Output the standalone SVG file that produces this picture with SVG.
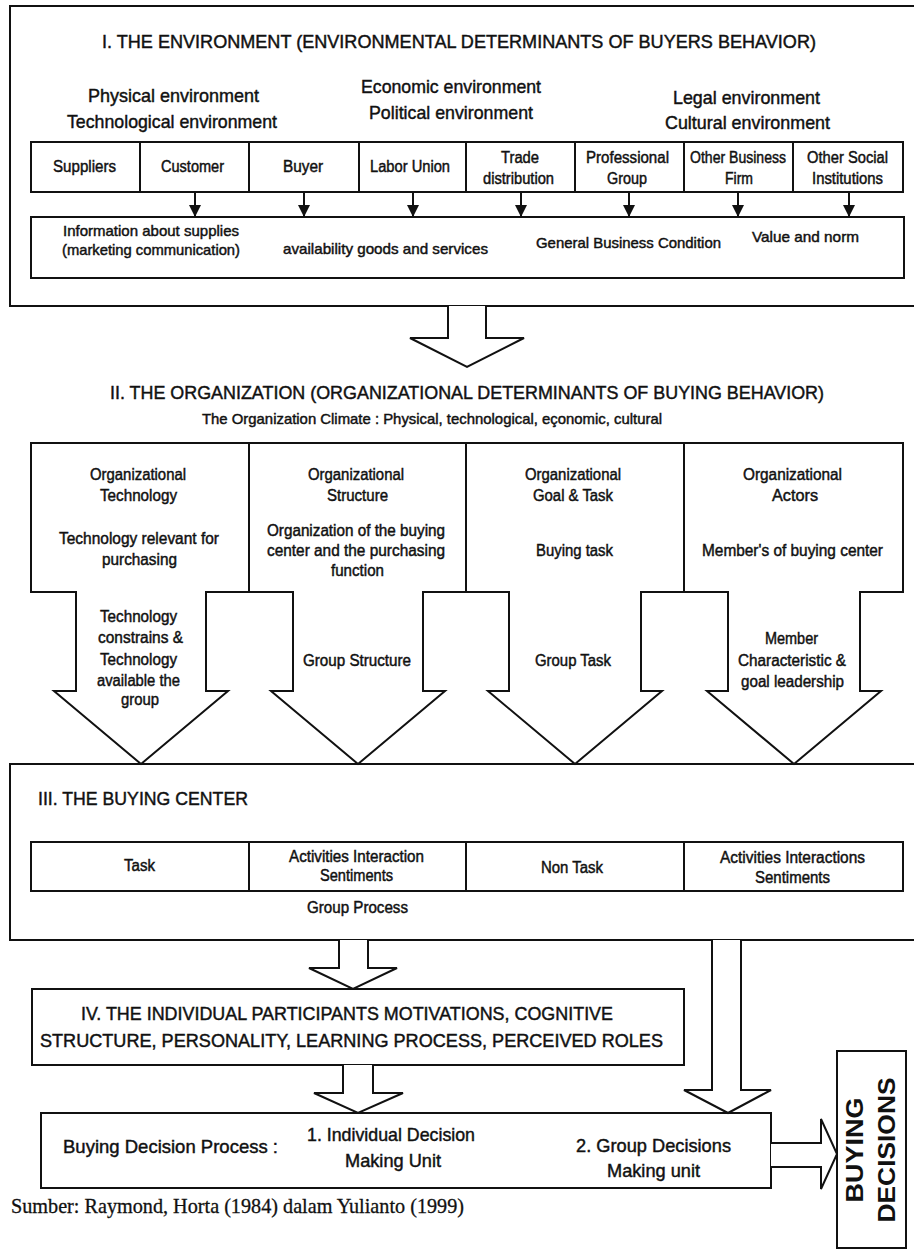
<svg xmlns="http://www.w3.org/2000/svg" width="914" height="1249" viewBox="0 0 914 1249">
<style>
text{font-family:"Liberation Sans",Arial,sans-serif;fill:#111;stroke:#111;stroke-width:0.45px;}
.t1{font-size:19px;}
.t2{font-size:19px;}
.lb{font-size:16px;}
.sm{font-size:15px;}
.bd{font-size:23px;font-weight:bold;stroke-width:0;}
.ft{font-family:"Liberation Serif","Times New Roman",serif;font-size:21px;stroke-width:0.3px;}
.box{fill:none;stroke:#111;stroke-width:2;}
.arr{fill:#fff;stroke:#111;stroke-width:2;stroke-linejoin:miter;}
.ln{stroke:#111;stroke-width:2;fill:none;}
</style>
<defs>
<marker id="ah" markerUnits="userSpaceOnUse" markerWidth="12" markerHeight="12" refX="12" refY="6" orient="auto">
<path d="M0,0 L12,6 L0,12 z" fill="#111"/>
</marker>
</defs>
<rect width="914" height="1249" fill="#fff"/>

<g id="env">
<path class="box" d="M914,6 H10 V306 H914"/>
<text class="t1" x="102" y="48" textLength="714" lengthAdjust="spacingAndGlyphs">I. THE ENVIRONMENT (ENVIRONMENTAL DETERMINANTS OF BUYERS BEHAVIOR)</text>
<text class="t2" x="88" y="102" textLength="171" lengthAdjust="spacingAndGlyphs">Physical environment</text>
<text class="t2" x="67" y="128" textLength="210" lengthAdjust="spacingAndGlyphs">Technological environment</text>
<text class="t2" x="361" y="93" textLength="180" lengthAdjust="spacingAndGlyphs">Economic environment</text>
<text class="t2" x="369" y="119" textLength="164" lengthAdjust="spacingAndGlyphs">Political environment</text>
<text class="t2" x="673" y="104" textLength="147" lengthAdjust="spacingAndGlyphs">Legal environment</text>
<text class="t2" x="665" y="129" textLength="165" lengthAdjust="spacingAndGlyphs">Cultural environment</text>
</g>

<g id="env-actors">
<rect class="box" x="31" y="142" width="872" height="50"/>
<path class="ln" d="M140,142V192M249,142V192M359,142V192M466,142V192M575,142V192M684,142V192M793,142V192"/>
<text class="lb" x="53" y="172" textLength="63" lengthAdjust="spacingAndGlyphs">Suppliers</text>
<text class="lb" x="161" y="172" textLength="63" lengthAdjust="spacingAndGlyphs">Customer</text>
<text class="lb" x="283" y="172" textLength="40" lengthAdjust="spacingAndGlyphs">Buyer</text>
<text class="lb" x="370" y="172" textLength="80" lengthAdjust="spacingAndGlyphs">Labor Union</text>
<text class="lb" x="501" y="163" textLength="38" lengthAdjust="spacingAndGlyphs">Trade</text>
<text class="lb" x="483" y="184" textLength="71" lengthAdjust="spacingAndGlyphs">distribution</text>
<text class="lb" x="586" y="163" textLength="83" lengthAdjust="spacingAndGlyphs">Professional</text>
<text class="lb" x="607" y="184" textLength="40" lengthAdjust="spacingAndGlyphs">Group</text>
<text class="lb" x="690" y="163" textLength="96" lengthAdjust="spacingAndGlyphs">Other Business</text>
<text class="lb" x="725" y="184" textLength="28" lengthAdjust="spacingAndGlyphs">Firm</text>
<text class="lb" x="807" y="163" textLength="81" lengthAdjust="spacingAndGlyphs">Other Social</text>
<text class="lb" x="812" y="184" textLength="71" lengthAdjust="spacingAndGlyphs">Institutions</text>
</g>

<g id="env-info">
<rect class="box" x="31" y="217" width="873" height="61"/>
<text class="sm" x="63" y="236" textLength="176" lengthAdjust="spacingAndGlyphs">Information about supplies</text>
<text class="sm" x="62" y="255" textLength="178" lengthAdjust="spacingAndGlyphs">(marketing communication)</text>
<text class="sm" x="283" y="254" textLength="205" lengthAdjust="spacingAndGlyphs">availability goods and services</text>
<text class="sm" x="536" y="248" textLength="185" lengthAdjust="spacingAndGlyphs">General Business Condition</text>
<text class="sm" x="752" y="242" textLength="107" lengthAdjust="spacingAndGlyphs">Value and norm</text>
</g>

<g id="org">
<text class="t1" x="110" y="399" textLength="714" lengthAdjust="spacingAndGlyphs">II. THE ORGANIZATION (ORGANIZATIONAL DETERMINANTS OF BUYING BEHAVIOR)</text>
<text class="sm" x="202" y="424" textLength="460" lengthAdjust="spacingAndGlyphs">The Organization Climate : Physical, technological, eçonomic, cultural</text>
</g>

<g id="org-technology">
<polygon class="arr" points="31,443 249,443 249,592 206,592 206,691 228,691 141,764 54,691 76,691 76,592 31,592"/>
<text class="lb" x="90" y="480" textLength="96" lengthAdjust="spacingAndGlyphs">Organizational</text>
<text class="lb" x="100" y="501" textLength="77" lengthAdjust="spacingAndGlyphs">Technology</text>
<text class="lb" x="59" y="544" textLength="160" lengthAdjust="spacingAndGlyphs">Technology relevant for</text>
<text class="lb" x="102" y="565" textLength="75" lengthAdjust="spacingAndGlyphs">purchasing</text>
<text class="lb" x="100" y="622" textLength="77" lengthAdjust="spacingAndGlyphs">Technology</text>
<text class="lb" x="98" y="643" textLength="85" lengthAdjust="spacingAndGlyphs">constrains &amp;</text>
<text class="lb" x="100" y="665" textLength="77" lengthAdjust="spacingAndGlyphs">Technology</text>
<text class="lb" x="97" y="686" textLength="83" lengthAdjust="spacingAndGlyphs">available the</text>
<text class="lb" x="121" y="705" textLength="38" lengthAdjust="spacingAndGlyphs">group</text>
</g>

<g id="org-structure">
<polygon class="arr" points="249,443 466,443 466,592 423,592 423,691 445,691 358,764 271,691 293,691 293,592 249,592"/>
<text class="lb" x="308" y="480" textLength="96" lengthAdjust="spacingAndGlyphs">Organizational</text>
<text class="lb" x="327" y="501" textLength="61" lengthAdjust="spacingAndGlyphs">Structure</text>
<text class="lb" x="267" y="536" textLength="178" lengthAdjust="spacingAndGlyphs">Organization of the buying</text>
<text class="lb" x="267" y="556" textLength="178" lengthAdjust="spacingAndGlyphs">center and the purchasing</text>
<text class="lb" x="331" y="576" textLength="53" lengthAdjust="spacingAndGlyphs">function</text>
<text class="lb" x="303" y="666" textLength="108" lengthAdjust="spacingAndGlyphs">Group Structure</text>
</g>

<g id="org-goal">
<polygon class="arr" points="466,443 684,443 684,592 641,592 641,691 662,691 575,764 488,691 509,691 509,592 466,592"/>
<text class="lb" x="525" y="480" textLength="96" lengthAdjust="spacingAndGlyphs">Organizational</text>
<text class="lb" x="533" y="501" textLength="80" lengthAdjust="spacingAndGlyphs">Goal &amp; Task</text>
<text class="lb" x="536" y="556" textLength="77" lengthAdjust="spacingAndGlyphs">Buying task</text>
<text class="lb" x="535" y="666" textLength="76" lengthAdjust="spacingAndGlyphs">Group Task</text>
</g>

<g id="org-actors">
<polygon class="arr" points="684,443 903,443 903,592 860,592 860,691 881,691 794,764 707,691 728,691 728,592 684,592"/>
<text class="lb" x="743" y="480" textLength="99" lengthAdjust="spacingAndGlyphs">Organizational</text>
<text class="lb" x="772" y="501" textLength="46" lengthAdjust="spacingAndGlyphs">Actors</text>
<text class="lb" x="702" y="556" textLength="181" lengthAdjust="spacingAndGlyphs">Member's of buying center</text>
<text class="lb" x="765" y="644" textLength="53" lengthAdjust="spacingAndGlyphs">Member</text>
<text class="lb" x="738" y="666" textLength="108" lengthAdjust="spacingAndGlyphs">Characteristic &amp;</text>
<text class="lb" x="741" y="687" textLength="103" lengthAdjust="spacingAndGlyphs">goal leadership</text>
</g>

<g id="buying-center">
<path class="box" d="M914,764 H10 V940 H914"/>
<text class="t1" x="38" y="805" font-size="21" textLength="210" lengthAdjust="spacingAndGlyphs">III. THE BUYING CENTER</text>
<rect class="box" x="31" y="842" width="872" height="49"/>
<path class="ln" d="M249,842V891M466,842V891M684,842V891"/>
<text class="lb" x="124" y="871" textLength="31" lengthAdjust="spacingAndGlyphs">Task</text>
<text class="lb" x="289" y="862" textLength="135" lengthAdjust="spacingAndGlyphs">Activities Interaction</text>
<text class="lb" x="320" y="881" textLength="73" lengthAdjust="spacingAndGlyphs">Sentiments</text>
<text class="lb" x="541" y="873" textLength="62" lengthAdjust="spacingAndGlyphs">Non Task</text>
<text class="lb" x="720" y="863" textLength="145" lengthAdjust="spacingAndGlyphs">Activities Interactions</text>
<text class="lb" x="755" y="883" textLength="75" lengthAdjust="spacingAndGlyphs">Sentiments</text>
<text class="lb" x="307" y="913" textLength="101" lengthAdjust="spacingAndGlyphs">Group Process</text>
</g>

<g id="individual">
<rect class="box" x="32" y="989" width="652" height="76"/>
<text class="t1" x="81" y="1020" font-size="20" textLength="532" lengthAdjust="spacingAndGlyphs">IV. THE INDIVIDUAL PARTICIPANTS MOTIVATIONS, COGNITIVE</text>
<text class="t1" x="40" y="1047" font-size="20" textLength="623" lengthAdjust="spacingAndGlyphs">STRUCTURE, PERSONALITY, LEARNING PROCESS, PERCEIVED ROLES</text>
</g>

<g id="decision-process">
<rect class="box" x="41" y="1113" width="730" height="75"/>
<text class="t2" x="63" y="1153" textLength="215" lengthAdjust="spacingAndGlyphs">Buying Decision Process :</text>
<text class="t2" x="307" y="1141" textLength="168" lengthAdjust="spacingAndGlyphs">1. Individual Decision</text>
<text class="t2" x="345" y="1167" textLength="96" lengthAdjust="spacingAndGlyphs">Making Unit</text>
<text class="t2" x="576" y="1152" textLength="155" lengthAdjust="spacingAndGlyphs">2. Group Decisions</text>
<text class="t2" x="607" y="1177" textLength="93" lengthAdjust="spacingAndGlyphs">Making unit</text>
</g>

<g id="buying-decisions">
<rect class="box" x="837" y="1051" width="69" height="197"/>
<text class="bd" transform="translate(863,1150) rotate(-90)" text-anchor="middle" textLength="105" lengthAdjust="spacingAndGlyphs">BUYING</text>
<text class="bd" transform="translate(895,1150) rotate(-90)" text-anchor="middle" textLength="145" lengthAdjust="spacingAndGlyphs">DECISIONS</text>
</g>

<g id="source">
<text class="ft" x="11" y="1213" textLength="453" lengthAdjust="spacingAndGlyphs">Sumber: Raymond, Horta (1984) dalam Yulianto (1999)</text>
</g>

<g id="connectors">
<path class="ln" marker-end="url(#ah)" d="M195,192V217"/>
<path class="ln" marker-end="url(#ah)" d="M304,192V217"/>
<path class="ln" marker-end="url(#ah)" d="M413,192V217"/>
<path class="ln" marker-end="url(#ah)" d="M521,192V217"/>
<path class="ln" marker-end="url(#ah)" d="M629,192V217"/>
<path class="ln" marker-end="url(#ah)" d="M738,192V217"/>
<path class="ln" marker-end="url(#ah)" d="M849,192V217"/>
<polyline class="arr" points="448,306 448,338 410,338 467,367 524,338 486,338 486,306"/>
<polyline class="arr" points="339,940 339,968 309,968 353,989 397,968 368,968 368,940"/>
<polyline class="arr" points="343,1065 343,1093 314,1093 358,1113 403,1093 373,1093 373,1065"/>
<polyline class="arr" points="712,940 712,1090 684,1090 728,1113 771,1090 741,1090 741,940"/>
<polyline class="arr" points="771,1143 821,1143 821,1119 837,1154 821,1189 821,1167 771,1167"/>
</g>
</svg>
